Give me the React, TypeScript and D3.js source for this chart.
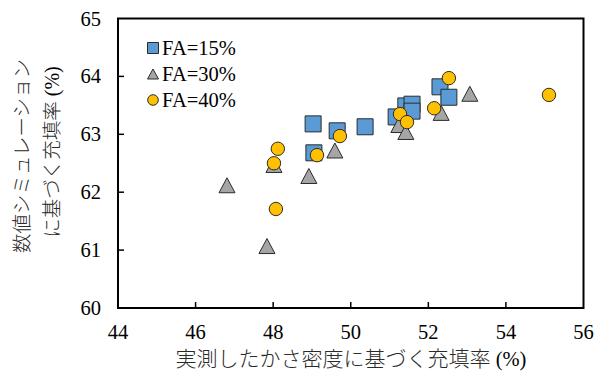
import React from "react";
import * as d3 from "d3";

// FA=15% series (measured packing ratio, simulated packing ratio)
const fa15X = [49.03, 49.65, 50.37, 49.05, 51.17, 51.42, 51.58, 51.58, 52.30, 52.53];
const fa15Y = [63.18, 63.06, 63.13, 62.68, 63.30, 63.49, 63.52, 63.40, 63.82, 63.64];

// FA=30% series
const fa30X = [46.81, 48.02, 47.84, 48.92, 49.59, 51.24, 51.42, 52.33, 53.07];
const fa30Y = [62.12, 62.47, 61.07, 62.28, 62.72, 63.16, 63.04, 63.37, 63.70];

// FA=40% series
const fa40X = [48.12, 48.02, 48.07, 49.13, 49.72, 51.27, 51.45, 52.15, 52.53, 55.11];
const fa40Y = [62.75, 62.50, 61.71, 62.64, 62.97, 63.35, 63.21, 63.45, 63.97, 63.68];

const xTicks = [44, 46, 48, 50, 52, 54, 56];
const yTicks = [60, 61, 62, 63, 64, 65];
const legendLabels = ["FA=15%", "FA=30%", "FA=40%"];

const W = 606;
const H = 372;
const left = 118;
const right = 583.5;
const top = 18.5;
const bottom = 308;

const serif = "Liberation Serif";
const cjk = "Noto Sans CJK JP";

const BLUE = "#5B9BD5";
const GRAY = "#A5A5A5";
const GOLD = "#FFC000";
const EDGE = "#2b2b2b";

function squarePath(x: number, y: number, s: number) {
  const h = s / 2;
  return `M${x - h},${y - h}H${x + h}V${y + h}H${x - h}Z`;
}
function trianglePath(x: number, y: number, w: number, h: number) {
  return `M${x},${y - h / 2}L${x + w / 2},${y + h / 2}L${x - w / 2},${y + h / 2}Z`;
}

const serifStyle = { fontFamily: serif, fontSize: 20.5 };
const cjkStyle = { fontFamily: cjk, fontWeight: 300 };

export default function App() {
  const x = d3.scaleLinear().domain([44, 56]).range([left, right]);
  const y = d3.scaleLinear().domain([60, 65]).range([bottom, top]);

  const sq = d3.zip(fa15X, fa15Y);
  const tri = d3.zip(fa30X, fa30Y);
  const cir = d3.zip(fa40X, fa40Y);

  const legendY = [48, 74, 100];
  const legendX = 153;

  return (
    <svg
      width={W}
      height={H}
      viewBox={`0 0 ${W} ${H}`}
      style={{ position: "absolute", left: 0, top: 0, background: "#fff" }}
    >
      <rect width={W} height={H} fill="#fff" />

      {/* plot frame */}
      <rect
        x={left}
        y={top}
        width={right - left}
        height={bottom - top}
        fill="none"
        stroke="#000"
        strokeWidth={2}
      />

      {/* inward ticks */}
      {xTicks.slice(1, -1).map((t) => (
        <line key={`xt${t}`} x1={x(t)} x2={x(t)} y1={bottom} y2={bottom - 6} stroke="#000" strokeWidth={1.5} />
      ))}
      {yTicks.slice(1, -1).map((t) => (
        <line key={`yt${t}`} x1={left} x2={left + 6} y1={y(t)} y2={y(t)} stroke="#000" strokeWidth={1.5} />
      ))}

      {/* tick labels */}
      {xTicks.map((t) => (
        <text key={`xl${t}`} x={x(t)} y={339} textAnchor="middle" style={serifStyle} fill="#000">
          {t}
        </text>
      ))}
      {yTicks.map((t) => (
        <text key={`yl${t}`} x={101} y={y(t) + 7} textAnchor="end" style={serifStyle} fill="#000">
          {t}
        </text>
      ))}

      {/* axis titles */}
      <text x={351} y={366} textAnchor="middle" fill="#2a2a2a" style={{ ...cjkStyle, fontSize: 21 }}>
        実測したかさ密度に基づく充填率
        <tspan style={serifStyle} fill="#000"> (%)</tspan>
      </text>
      <g transform="translate(29,156) rotate(-90)">
        <text x={0} y={0} textAnchor="middle" fill="#2a2a2a" style={{ ...cjkStyle, fontSize: 19.5 }}>
          数値シミュレーション
        </text>
      </g>
      <g transform="translate(59,152) rotate(-90)">
        <text x={0} y={0} textAnchor="middle" fill="#2a2a2a" style={{ ...cjkStyle, fontSize: 19.5 }}>
          に基づく充填率
          <tspan style={{ fontFamily: serif, fontSize: 20 }} fill="#000"> (%)</tspan>
        </text>
      </g>

      {/* data markers */}
      <g>
        {sq.map(([a, b], i) => (
          <path key={`s${i}`} d={squarePath(x(a), y(b), 16)} fill={BLUE} stroke={EDGE} strokeWidth={1} />
        ))}
      </g>
      <g>
        {tri.map(([a, b], i) => (
          <path key={`t${i}`} d={trianglePath(x(a), y(b), 16, 15)} fill={GRAY} stroke={EDGE} strokeWidth={1} />
        ))}
      </g>
      <g>
        {cir.map(([a, b], i) => (
          <circle key={`c${i}`} cx={x(a)} cy={y(b)} r={6.7} fill={GOLD} stroke={EDGE} strokeWidth={1} />
        ))}
      </g>

      {/* legend */}
      <path d={squarePath(legendX, legendY[0], 11)} fill={BLUE} stroke={EDGE} strokeWidth={1} />
      <path d={trianglePath(legendX, legendY[1], 11, 10)} fill={GRAY} stroke={EDGE} strokeWidth={1} />
      <circle cx={legendX} cy={legendY[2]} r={5.3} fill={GOLD} stroke={EDGE} strokeWidth={1} />
      {legendLabels.map((l, i) => (
        <text key={l} x={162} y={legendY[i] + 7} style={serifStyle} fill="#000">
          {l}
        </text>
      ))}
    </svg>
  );
}
